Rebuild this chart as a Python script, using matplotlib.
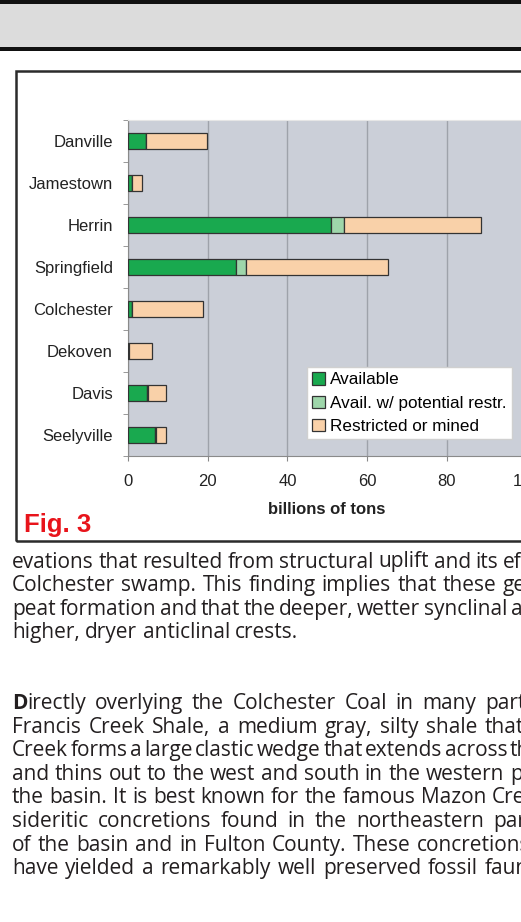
import matplotlib
matplotlib.use('Agg')
import matplotlib.pyplot as plt
from matplotlib.patches import Patch, Rectangle
import numpy as np

plt.rcParams['font.family'] = ['Liberation Sans', 'DejaVu Sans']

# coal beds, top to bottom as in the figure
beds = ['Danville', 'Jamestown', 'Herrin', 'Springfield', 'Colchester', 'Dekoven', 'Davis', 'Seelyville']
available = [4.5, 0.9, 51.0, 27.1, 0.9, 0.3, 4.7, 6.8]
potential = [0.0, 0.0, 3.2, 2.5, 0.0, 0.0, 0.3, 0.2]
restricted = [15.2, 2.5, 34.4, 35.6, 18.0, 5.6, 4.5, 2.6]
series_names = ['Available', 'Avail. w/ potential restr.', 'Restricted or mined']
x_ticks = [0, 20, 40, 60, 80, 100]

# page text under the figure (justified column, cut by the right edge)
para1 = ['evations that resulted from structural uplift and its effect on the',
         'Colchester swamp. This finding implies that these geologic features',
         'peat formation and that the deeper, wetter synclinal areas were more',
         'higher, dryer anticlinal crests.']
para2 = ['Directly overlying the Colchester Coal in many parts of the basin',
         'Francis Creek Shale, a medium gray, silty shale that is locally',
         'Creek forms a large clastic wedge that extends across the northern',
         'and thins out to the west and south in the western part of',
         'the basin. It is best known for the famous Mazon Creek fossils in',
         'sideritic concretions found in the northeastern part',
         'of the basin and in Fulton County. These concretions',
         'have yielded a remarkably well preserved fossil fauna']
# (word index, x where that word starts) used to justify each line
just1 = [(8, 503), (7, 503), (8, 511), None]
just2 = [(7, 485), (8, 485), (8, 445), (11, 510), (10, 492), (6, 493), (8, 417), (7, 485)]

colors = ['#19a94f', '#9ed6aa', '#f9d1a9']
W, H = 521, 922
fig = plt.figure(figsize=(W / 100, H / 100), dpi=100)
renderer = fig.canvas.get_renderer()

def fy(py):
    return 1 - py / H

# page header
fig.patches.append(Rectangle((0, fy(47)), 1, 43 / H, transform=fig.transFigure, facecolor='#dcdcdc', edgecolor='none'))
fig.patches.append(Rectangle((0, fy(4)), 1, 4 / H, transform=fig.transFigure, facecolor='#111111', edgecolor='none'))
fig.patches.append(Rectangle((0, fy(51)), 1, 4 / H, transform=fig.transFigure, facecolor='#111111', edgecolor='none'))
# figure frame
fig.patches.append(Rectangle((16 / W, fy(541)), 1.2, 470 / H, transform=fig.transFigure, fill=False,
                             edgecolor='#2b2b2b', linewidth=1.8))

ax = fig.add_axes([128 / W, fy(456), 398.5 / W, 336 / H])
ax.set_facecolor('#cbcfd8')
y = np.arange(len(beds))[::-1]
left = np.zeros(len(beds))
for vals, c, name in zip([available, potential, restricted], colors, series_names):
    ax.barh(y, vals, left=left, height=0.38, color=c, edgecolor='#333333', linewidth=0.9, label=name, zorder=3)
    left = left + np.array(vals)

ax.set_xlim(0, 100)
ax.set_ylim(-0.5, len(beds) - 0.5)
ax.set_xticks(x_ticks)
ax.grid(axis='x', color='#9ea2aa', linewidth=1.0, zorder=0)
ax.set_yticks(y)
ax.set_yticklabels(beds)
ax.set_yticks(np.arange(len(beds) + 1) - 0.5, minor=True)
ax.tick_params(axis='y', which='major', length=0, pad=10.8, labelsize=12, labelcolor='#222222')
ax.tick_params(axis='y', which='minor', length=3.6, color='#888888')
ax.tick_params(axis='x', length=3.6, pad=9, labelsize=12, color='#888888', labelcolor='#222222')
for s in ['left', 'bottom']:
    ax.spines[s].set_color('#8a8a8a')
ax.spines['top'].set_color('#e6e6e6')
ax.spines['right'].set_visible(False)

ax.set_xlabel('billions of tons', fontsize=12, fontweight='bold', color='#222222', va='center')
ax.xaxis.set_label_coords(0.4986, (fy(509) - fy(456)) / (336 / H))

handles = [Patch(facecolor=c, edgecolor='#333333', linewidth=0.9) for c in colors]
fig.legend(handles, series_names, loc='upper left', bbox_to_anchor=(307 / W, fy(367)),
           bbox_transform=fig.transFigure, borderaxespad=0, fontsize=12.3, frameon=True, fancybox=False,
           edgecolor='#d0d0d0', framealpha=1, borderpad=0.3, labelspacing=0.48, handlelength=0.75,
           handleheight=0.75, handletextpad=0.3)

fig.text(24 / W, fy(532), 'Fig. 3', color='#e8141b', fontsize=18.5, fontweight='bold', va='baseline')

body = dict(family=['Open Sans', 'DejaVu Sans'], fontsize=15.0, color='#231f20', va='baseline')

def width(t):
    return t.get_window_extent(renderer).width

probe = fig.text(0, 0, 'a a', **body)
probe2 = fig.text(0, 0, 'aa', **body)
space = width(probe) - width(probe2)
probe.remove()
probe2.remove()

def place_line(line, ybase, just, bold_initial=False):
    words = line.split()
    texts = []
    widths = []
    for k, w in enumerate(words):
        if k == 0 and bold_initial:
            t0 = fig.text(0, fy(ybase), w[0], fontweight='bold', **body)
            t1 = fig.text(0, fy(ybase), w[1:], **body)
            texts.append((t0, t1))
            widths.append(width(t0) + width(t1))
        else:
            t = fig.text(0, fy(ybase), w, **body)
            texts.append((t,))
            widths.append(width(t))
    gap = space
    if just is not None:
        idx, xa = just
        natural = 12 + sum(widths[:idx]) + space * idx
        gap = space + (xa - natural) / idx
    x = 12
    for tt, w in zip(texts, widths):
        xx = x
        for t in tt:
            t.set_x(xx / W)
            xx += width(t)
        x += w + gap

for i, line in enumerate(para1):
    place_line(line, 567.5 + 23.5 * i, just1[i])
for i, line in enumerate(para2):
    place_line(line, 709 + 23.6 * i, just2[i], bold_initial=(i == 0))

plt.savefig('out.png', dpi=100)
